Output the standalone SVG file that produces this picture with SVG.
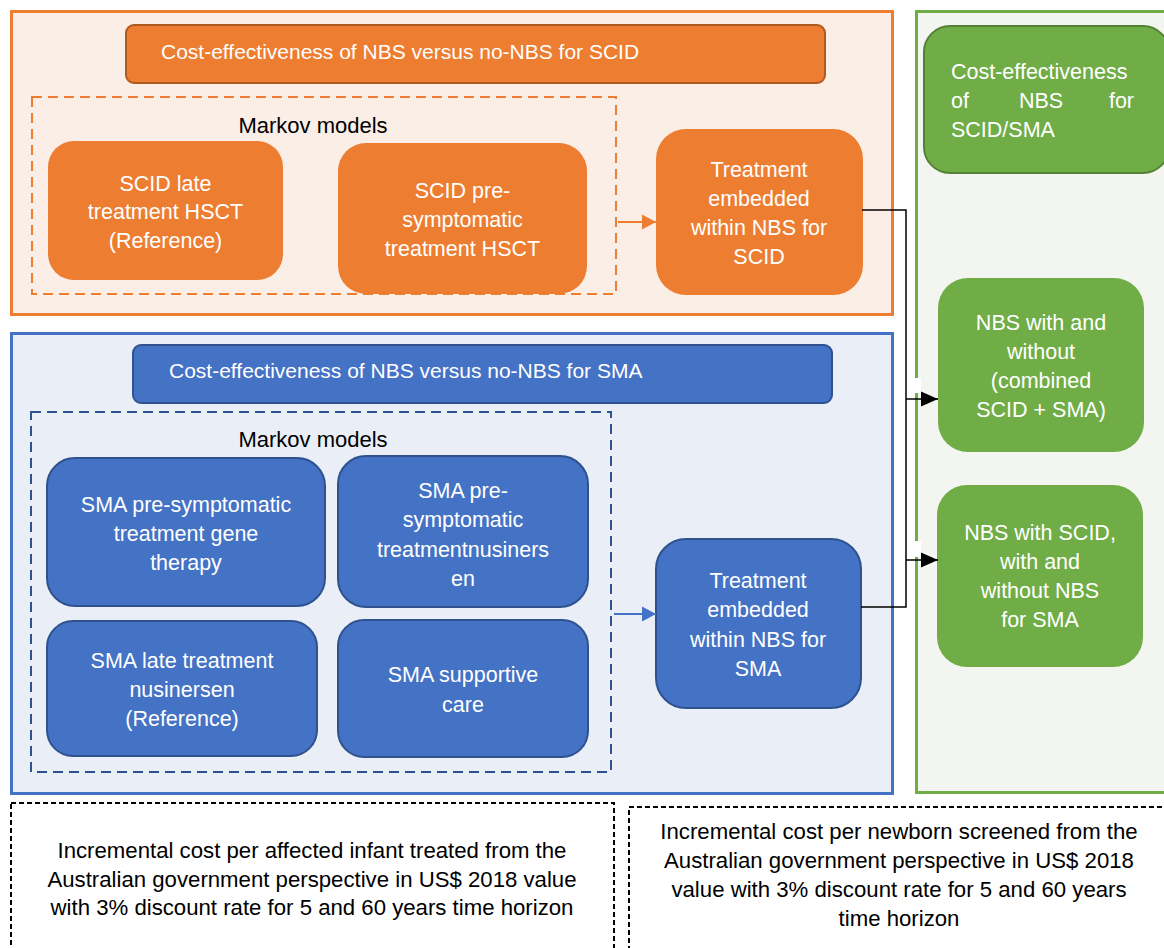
<svg xmlns="http://www.w3.org/2000/svg" width="1164" height="948" viewBox="0 0 1164 948">
<style>
text{font-family:"Liberation Sans",Arial,sans-serif;font-size:21.5px}
.w{fill:#fff;text-anchor:middle}
.k{fill:#000;text-anchor:middle}
.t{font-size:21px}
.mk{font-size:22px}
.ft{font-size:22.2px}
.on{fill:#ED7D31}
.bn{fill:#4472C4;stroke:#2F528F;stroke-width:2}
.gn{fill:#70AD47}
.dash{fill:none;stroke-width:2;stroke-dasharray:10 6}
.bd{fill:none;stroke:#000;stroke-width:2;stroke-dasharray:5 3}
.conn{fill:none;stroke:#000;stroke-width:1.5}
</style>
<defs>
<marker id="ah" markerUnits="userSpaceOnUse" markerWidth="17" markerHeight="16" refX="17" refY="8" orient="auto"><path d="M0,0.5 L17,8 L0,15.5 Z" fill="#000"/></marker>
<marker id="ao" markerUnits="userSpaceOnUse" markerWidth="14" markerHeight="16" refX="14" refY="8" orient="auto"><path d="M0,0.5 L14,8 L0,15.5 Z" fill="#ED7D31"/></marker>
<marker id="ab" markerUnits="userSpaceOnUse" markerWidth="14" markerHeight="16" refX="14" refY="8" orient="auto"><path d="M0,0.5 L14,8 L0,15.5 Z" fill="#4472C4"/></marker>
</defs>
<rect width="1164" height="948" fill="#fff"/>

<g id="scid-panel">
<rect x="11.5" y="11.5" width="881" height="303" fill="#FBEEE6" stroke="#ED7D31" stroke-width="3"/>
<rect x="32" y="97" width="584" height="197" class="dash" stroke="#ED7D31"/>
<text class="k mk" x="313" y="133">Markov models</text>
</g>
<g id="sma-panel">
<rect x="11.5" y="333.5" width="881" height="460" fill="#EAEFF7" stroke="#4472C4" stroke-width="3"/>
<rect x="31" y="412" width="580" height="360" class="dash" stroke="#2F528F"/>
<text class="k mk" x="313" y="447">Markov models</text>
</g>
<g id="ce-panel">
<rect x="916.5" y="11.5" width="260" height="781" fill="#F3F6F0" stroke="#70AD47" stroke-width="3"/>
<rect x="914" y="378" width="7" height="15" fill="#fff"/>
<rect x="914" y="541" width="7" height="16" fill="#fff"/>
</g>

<g id="scid-title">
<rect x="126" y="25" width="699" height="58" rx="8" fill="#ED7D31" stroke="#AE5A21" stroke-width="2"/>
<text class="t" fill="#fff" x="161" y="59">Cost-effectiveness of NBS versus no-NBS for SCID</text>
</g>
<g id="scid-late">
<rect x="48" y="141" width="235" height="139" rx="26" class="on"/>
<text class="w" x="165.5" y="191">SCID late</text>
<text class="w" x="165.5" y="219">treatment HSCT</text>
<text class="w" x="165.5" y="248">(Reference)</text>
</g>
<g id="scid-pre">
<rect x="338" y="143" width="249" height="151" rx="28" class="on"/>
<text class="w" x="462.5" y="198">SCID pre-</text>
<text class="w" x="462.5" y="227">symptomatic</text>
<text class="w" x="462.5" y="256">treatment HSCT</text>
</g>
<g id="scid-embedded">
<rect x="656" y="129" width="207" height="166" rx="30" class="on"/>
<text class="w" x="759" y="177">Treatment</text>
<text class="w" x="759" y="206">embedded</text>
<text class="w" x="759" y="235">within NBS for</text>
<text class="w" x="759" y="264">SCID</text>
</g>

<g id="sma-title">
<rect x="133" y="345" width="699" height="58" rx="8" fill="#4472C4" stroke="#2F528F" stroke-width="2"/>
<text class="t" fill="#fff" x="169" y="378">Cost-effectiveness of NBS versus no-NBS for SMA</text>
</g>
<g id="sma-gene">
<rect x="47" y="458" width="278" height="148" rx="28" class="bn"/>
<text class="w" x="186" y="512">SMA pre-symptomatic</text>
<text class="w" x="186" y="541">treatment gene</text>
<text class="w" x="186" y="570">therapy</text>
</g>
<g id="sma-nus">
<rect x="338" y="456" width="250" height="151" rx="28" class="bn"/>
<text class="w" x="463" y="498">SMA pre-</text>
<text class="w" x="463" y="527">symptomatic</text>
<text class="w" x="463" y="557">treatmentnusiners</text>
<text class="w" x="463" y="586">en</text>
</g>
<g id="sma-late">
<rect x="47" y="621" width="270" height="135" rx="26" class="bn"/>
<text class="w" x="182" y="668">SMA late treatment</text>
<text class="w" x="182" y="697">nusinersen</text>
<text class="w" x="182" y="726">(Reference)</text>
</g>
<g id="sma-support">
<rect x="338" y="620" width="250" height="137" rx="26" class="bn"/>
<text class="w" x="463" y="682">SMA supportive</text>
<text class="w" x="463" y="712">care</text>
</g>
<g id="sma-embedded">
<rect x="656" y="539" width="205" height="169" rx="30" class="bn"/>
<text class="w" x="758" y="588">Treatment</text>
<text class="w" x="758" y="617">embedded</text>
<text class="w" x="758" y="647">within NBS for</text>
<text class="w" x="758" y="676">SMA</text>
</g>

<g id="ce-title">
<rect x="924" y="26" width="245" height="147" rx="26" fill="#70AD47" stroke="#548235" stroke-width="2"/>
<text fill="#fff" x="951" y="79">Cost-effectiveness</text>
<text fill="#fff" x="951" y="108">of</text>
<text fill="#fff" x="1019" y="108">NBS</text>
<text fill="#fff" x="1134" y="108" text-anchor="end">for</text>
<text fill="#fff" x="951" y="137">SCID/SMA</text>
</g>
<g id="ce-combined">
<rect x="938" y="278" width="206" height="174" rx="30" class="gn"/>
<text class="w" x="1041" y="330">NBS with and</text>
<text class="w" x="1041" y="359">without</text>
<text class="w" x="1041" y="388">(combined</text>
<text class="w" x="1041" y="417">SCID + SMA)</text>
</g>
<g id="ce-scid">
<rect x="937" y="485" width="206" height="182" rx="30" class="gn"/>
<text class="w" x="1040" y="540">NBS with SCID,</text>
<text class="w" x="1040" y="569">with and</text>
<text class="w" x="1040" y="598">without NBS</text>
<text class="w" x="1040" y="627">for SMA</text>
</g>

<g id="out-infant">
<rect x="11" y="803" width="603" height="160" class="bd"/>
<text class="k ft" x="312" y="858">Incremental cost per affected infant treated from the</text>
<text class="k ft" x="312" y="887">Australian government perspective in US$ 2018 value</text>
<text class="k ft" x="312" y="915">with 3% discount rate for 5 and 60 years time horizon</text>
</g>
<g id="out-newborn">
<rect x="629" y="807" width="560" height="160" class="bd"/>
<text class="k ft" x="899" y="839">Incremental cost per newborn screened from the</text>
<text class="k ft" x="899" y="868">Australian government perspective in US$ 2018</text>
<text class="k ft" x="899" y="897">value with 3% discount rate for 5 and 60 years</text>
<text class="k ft" x="899" y="926">time horizon</text>
</g>

<g id="connectors">
<line x1="618" y1="222" x2="656" y2="222" stroke="#ED7D31" stroke-width="2" marker-end="url(#ao)"/>
<line x1="614" y1="614" x2="656" y2="614" stroke="#4472C4" stroke-width="2" marker-end="url(#ab)"/>
<polyline class="conn" points="862,210 906,210 906,607 861,607"/>
<line class="conn" x1="906" y1="399" x2="938" y2="399" marker-end="url(#ah)"/>
<line class="conn" x1="906" y1="560" x2="938" y2="560" marker-end="url(#ah)"/>
</g>
</svg>
